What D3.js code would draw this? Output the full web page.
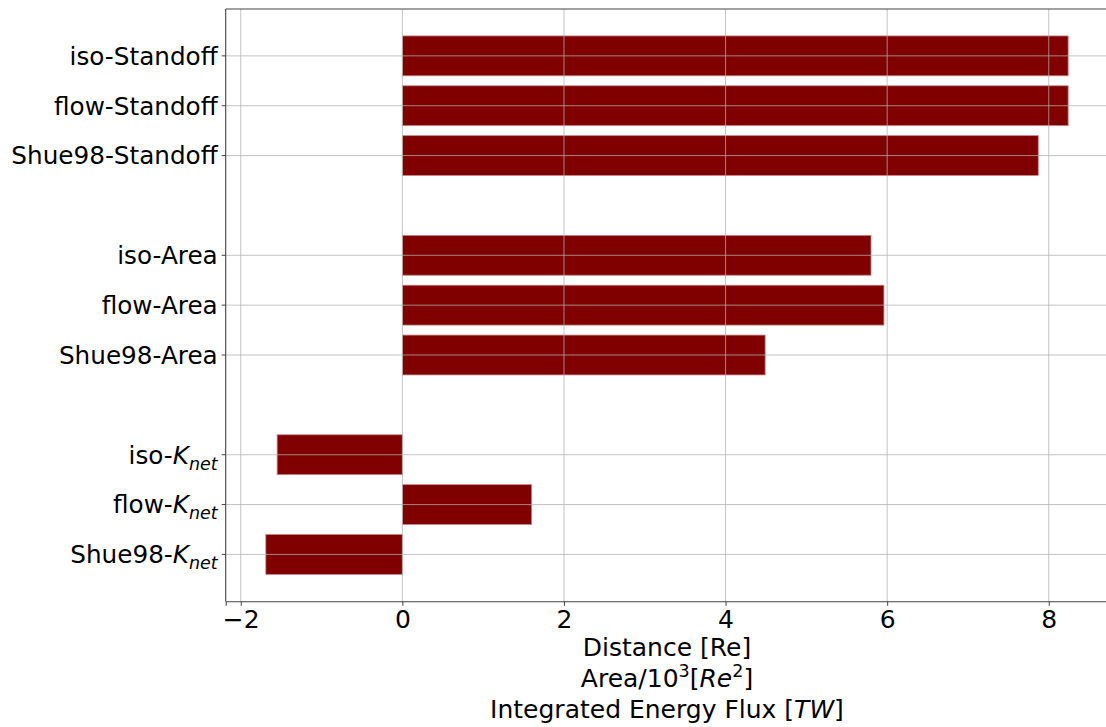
<!DOCTYPE html>
<html>
<head>
<meta charset="utf-8">
<script src="https://cdn.jsdelivr.net/npm/d3@7"></script>
<style>
  html, body { margin: 0; padding: 0; background: #fff; }
  svg { display: block; font-family: "DejaVu Sans", sans-serif; }
</style>
</head>
<body>
<svg id="chart" width="1106" height="727"></svg>
<script>
// Methods compared within each quantity group (top to bottom)
const methods = ["iso", "flow", "Shue98"];
// Quantity groups, top to bottom
const groups = ["Standoff", "Area", "Knet"];
// Values per group, in method order
const standoffValues = [8.24, 8.24, 7.87];   // Distance [Re]
const areaValues = [5.80, 5.96, 4.49];       // Area / 10^3 [Re^2]
const knetValues = [-1.55, 1.60, -1.69];     // Integrated energy flux [TW]
const xTicks = [-2, 0, 2, 4, 6, 8];

const groupValues = [standoffValues, areaValues, knetValues];

// Flatten into bar rows; each group occupies three slots plus a blank slot
const rows = [];
groups.forEach((g, gi) => {
  methods.forEach((m, mi) => {
    rows.push({ method: m, group: g, value: groupValues[gi][mi], slot: gi * 4 + mi });
  });
});

const svg = d3.select("#chart");
const plot = { left: 225.7, top: 9, bottom: 601.3 };

// x domain padded by 5% of the data range on each side
const vmin = Math.min(0, d3.min(rows, d => d.value));
const vmax = Math.max(0, d3.max(rows, d => d.value));
const pad = (vmax - vmin) * 0.05;
const pxPerUnit = 80.8;
const x = d3.scaleLinear()
  .domain([vmin - pad, vmax + pad])
  .range([plot.left, plot.left + (vmax - vmin + 2 * pad) * pxPerUnit]);

const maxSlot = d3.max(rows, d => d.slot);
const barH = 0.8;
const yPad = (maxSlot + barH) * 0.05 + barH / 2;
const y = d3.scaleLinear()
  .domain([-yPad, maxSlot + yPad])
  .range([plot.top, plot.bottom]);

const barColor = "#800000";

// Bars
svg.append("g")
  .selectAll("rect")
  .data(rows)
  .join("rect")
  .attr("x", d => x(Math.min(0, d.value)))
  .attr("y", d => y(d.slot - barH / 2))
  .attr("width", d => Math.abs(x(d.value) - x(0)))
  .attr("height", d => y(d.slot + barH / 2) - y(d.slot - barH / 2))
  .attr("fill", barColor)
  .attr("stroke", "#c48a8a")
  .attr("stroke-width", 0.8);

// Grid lines drawn over the bars
const grid = svg.append("g")
  .attr("stroke", "#b0b0b0")
  .attr("stroke-opacity", 0.75)
  .attr("stroke-width", 1);
grid.selectAll("line.vx")
  .data(xTicks)
  .join("line")
  .attr("class", "vx")
  .attr("x1", d => x(d)).attr("x2", d => x(d))
  .attr("y1", plot.top).attr("y2", plot.bottom);
grid.selectAll("line.hy")
  .data(rows)
  .join("line")
  .attr("class", "hy")
  .attr("x1", plot.left).attr("x2", x.range()[1])
  .attr("y1", d => y(d.slot)).attr("y2", d => y(d.slot));

// X axis
const xAxis = svg.append("g")
  .attr("transform", `translate(0,${plot.bottom})`)
  .call(d3.axisBottom(x).tickValues(xTicks).tickSizeOuter(0).tickSize(4.5).tickPadding(4)
    .tickFormat(d => d < 0 ? "\u2212" + Math.abs(d) : String(d)));
xAxis.select(".domain").attr("stroke", "#444").attr("stroke-width", 1.1);
xAxis.selectAll(".tick line").attr("stroke", "#444").attr("stroke-width", 1);
xAxis.selectAll(".tick text")
  .attr("font-family", "DejaVu Sans")
  .attr("font-size", 25)
  .attr("fill", "#000");

// Y axis with custom rich labels
const yAxis = svg.append("g")
  .attr("transform", `translate(${plot.left},0)`);
yAxis.append("line")
  .attr("x1", 0).attr("x2", 0)
  .attr("y1", plot.top).attr("y2", plot.bottom)
  .attr("stroke", "#444").attr("stroke-width", 1.1);
yAxis.selectAll("line.tick")
  .data(rows)
  .join("line")
  .attr("class", "tick")
  .attr("x1", -4).attr("x2", 0)
  .attr("y1", d => y(d.slot)).attr("y2", d => y(d.slot))
  .attr("stroke", "#444");

const labels = yAxis.selectAll("text.lbl")
  .data(rows)
  .join("text")
  .attr("class", "lbl")
  .attr("x", -8)
  .attr("y", d => y(d.slot))
  .attr("dy", "0.36em")
  .attr("text-anchor", "end")
  .attr("font-size", 24.7)
  .attr("fill", "#000");

labels.each(function (d) {
  const t = d3.select(this);
  if (d.group === "Knet") {
    t.append("tspan").text(d.method + "-");
    t.append("tspan").attr("font-style", "italic").text("K");
    t.append("tspan").attr("font-style", "italic").attr("font-size", 17.5)
      .attr("dy", 6).text("net");
  } else {
    t.text(d.method + "-" + d.group);
  }
});

// X axis title, three lines
const cx = (plot.left + x.range()[1]) / 2;
const title = svg.append("g")
  .attr("font-size", 25)
  .attr("fill", "#000")
  .attr("text-anchor", "middle");

title.append("text").attr("x", cx).attr("y", 656).text("Distance [Re]");

const t2 = title.append("text").attr("x", cx).attr("y", 687.3);
t2.append("tspan").text("Area/10");
t2.append("tspan").attr("font-size", 17.5).attr("dy", -10).text("3");
t2.append("tspan").attr("dy", 10).text("[");
t2.append("tspan").attr("font-style", "italic").text("Re");
t2.append("tspan").attr("font-size", 17.5).attr("dy", -10).text("2");
t2.append("tspan").attr("dy", 10).text("]");

const t3 = title.append("text").attr("x", cx).attr("y", 718.3);
t3.append("tspan").text("Integrated Energy Flux [");
t3.append("tspan").attr("font-style", "italic").text("TW");
t3.append("tspan").text("]");

// Top spine
svg.append("line")
  .attr("x1", plot.left).attr("x2", x.range()[1])
  .attr("y1", plot.top).attr("y2", plot.top)
  .attr("stroke", "#444").attr("stroke-width", 1.1);
</script>
</body>
</html>
